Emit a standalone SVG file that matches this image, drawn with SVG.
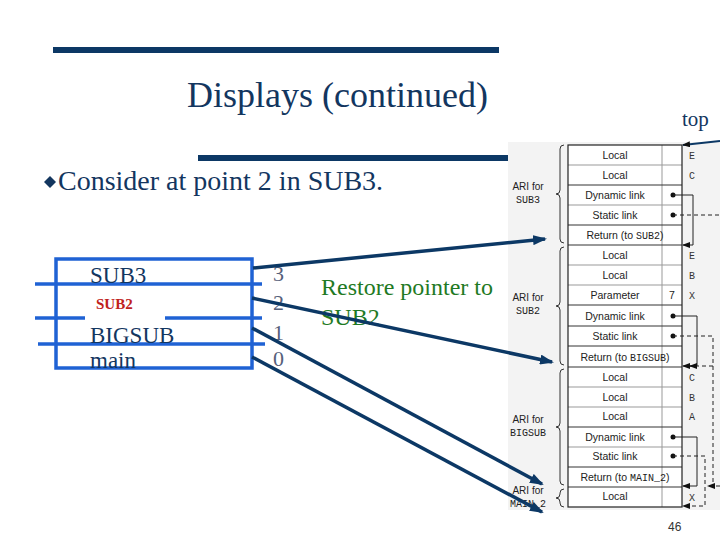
<svg xmlns="http://www.w3.org/2000/svg" width="720" height="540" viewBox="0 0 720 540">
<style>
.serif{font-family:"Liberation Serif","Times New Roman",serif}
.navy{fill:#13365f}
.num{font-family:"Liberation Serif",serif;font-size:22px;fill:#56607a}
.lbl{font-family:"Liberation Serif",serif;font-size:23px;fill:#13365f}
.cell{font-family:"Liberation Sans",Arial,sans-serif;font-size:10.5px;fill:#222;text-anchor:middle}
.var{font-family:"Liberation Mono",monospace;font-size:10px;fill:#333}
.ari{font-family:"Liberation Sans",Arial,sans-serif;font-size:10px;fill:#222;text-anchor:middle}
.mono{font-family:"Liberation Mono","Courier New",monospace}
.big{stroke:#0c3865;stroke-width:3.5;fill:none}
.thin{stroke:#222;stroke-width:1;fill:none}
.dash{stroke:#222;stroke-width:1;fill:none;stroke-dasharray:4 3}
.brace{stroke:#333;stroke-width:1;fill:none}
.blue{stroke:#1f62d4;stroke-width:3.5;fill:none}
</style>
<defs>
<marker id="ah" markerUnits="userSpaceOnUse" markerWidth="14" markerHeight="10" refX="12" refY="5" orient="auto"><path d="M0,0 L14,5 L0,10 z" fill="#0c3865"/></marker>
<marker id="sh" markerUnits="userSpaceOnUse" markerWidth="8" markerHeight="6" refX="7" refY="3" orient="auto"><path d="M0,0 L8,3 L0,6 z" fill="#111"/></marker>
</defs>
<rect width="720" height="540" fill="#fff"/>

<g id="title">
<rect x="53" y="47" width="446" height="6" fill="#0c3865"/>
<text x="187" y="107" class="serif navy" font-size="36">Displays (continued)</text>
<rect x="198" y="155" width="310" height="6" fill="#0c3865"/>
</g>

<g id="bullet">
<path d="M44,182 L50,176 L56,182 L50,188 z" fill="#13365f"/>
<text x="58" y="190" class="serif navy" font-size="28">Consider at point 2 in SUB3.</text>
</g>

<g id="display">
<rect x="56" y="259" width="196" height="109" class="blue"/>
<line x1="35" y1="284" x2="262" y2="284" class="blue"/>
<line x1="35" y1="318" x2="85" y2="318" class="blue"/>
<line x1="165" y1="318" x2="262" y2="318" class="blue"/>
<line x1="38" y1="344" x2="265" y2="344" class="blue"/>
<text x="90" y="283" class="lbl">SUB3</text>
<text x="96" y="309" font-family="Liberation Serif,serif" font-size="15" font-weight="bold" fill="#c0221c">SUB2</text>
<text x="90" y="343" class="lbl">BIGSUB</text>
<text x="90" y="368" class="lbl">main</text>
<text x="273" y="281" class="num">3</text>
<text x="273" y="310" class="num">2</text>
<text x="273" y="340" class="num">1</text>
<text x="273" y="366" class="num">0</text>
</g>

<g id="note">
<text x="321" y="295" class="serif" font-size="24" fill="#1f7a24">Restore pointer to</text>
<text x="321" y="325" class="serif" font-size="24" fill="#1f7a24">SUB2</text>
</g>

<g id="stack">
<rect x="508" y="142" width="212" height="368" fill="#f3f3f3"/>
<rect x="568" y="145" width="114" height="362" fill="#fff"/>
<g stroke="#999" stroke-width="1">
<line x1="662" y1="145" x2="662" y2="507"/>
<line x1="568" y1="165" x2="682" y2="165"/>
<line x1="568" y1="205" x2="682" y2="205"/>
<line x1="568" y1="265" x2="682" y2="265"/>
<line x1="568" y1="285" x2="682" y2="285"/>
<line x1="568" y1="387" x2="682" y2="387"/>
<line x1="568" y1="407" x2="682" y2="407"/>
<line x1="568" y1="447" x2="682" y2="447"/>
</g>
<g stroke="#333" stroke-width="1">
<line x1="568" y1="185" x2="682" y2="185"/>
<line x1="568" y1="225" x2="682" y2="225"/>
<line x1="568" y1="245" x2="682" y2="245"/>
<line x1="568" y1="305" x2="682" y2="305"/>
<line x1="568" y1="326" x2="682" y2="326"/>
<line x1="568" y1="346" x2="682" y2="346"/>
<line x1="568" y1="367" x2="682" y2="367"/>
<line x1="568" y1="427" x2="682" y2="427"/>
<line x1="568" y1="467" x2="682" y2="467"/>
<line x1="568" y1="487" x2="682" y2="487"/>
</g>
<rect x="568" y="145" width="114" height="362" fill="none" stroke="#222" stroke-width="1.2"/>
<text x="615" y="159" class="cell">Local</text>
<text x="615" y="179" class="cell">Local</text>
<text x="615" y="199" class="cell">Dynamic link</text>
<text x="615" y="219" class="cell">Static link</text>
<text x="625" y="239" class="cell">Return (to <tspan class="mono" font-size="10">SUB2</tspan>)</text>
<text x="615" y="259" class="cell">Local</text>
<text x="615" y="279" class="cell">Local</text>
<text x="615" y="299" class="cell">Parameter</text>
<text x="672" y="299" class="cell">7</text>
<text x="615" y="320" class="cell">Dynamic link</text>
<text x="615" y="340" class="cell">Static link</text>
<text x="625" y="361" class="cell">Return (to <tspan class="mono" font-size="10">BIGSUB</tspan>)</text>
<text x="615" y="381" class="cell">Local</text>
<text x="615" y="401" class="cell">Local</text>
<text x="615" y="420" class="cell">Local</text>
<text x="615" y="441" class="cell">Dynamic link</text>
<text x="615" y="460" class="cell">Static link</text>
<text x="625" y="481" class="cell">Return (to <tspan class="mono" font-size="10">MAIN_2</tspan>)</text>
<text x="615" y="500" class="cell">Local</text>
<text x="689" y="159" class="var">E</text>
<text x="689" y="179" class="var">C</text>
<text x="689" y="259" class="var">E</text>
<text x="689" y="279" class="var">B</text>
<text x="689" y="299" class="var">X</text>
<text x="689" y="381" class="var">C</text>
<text x="689" y="401" class="var">B</text>
<text x="689" y="420" class="var">A</text>
<text x="689" y="501" class="var">X</text>
<g fill="#111">
<circle cx="673" cy="195" r="2.5"/><circle cx="673" cy="215" r="2.5"/>
<circle cx="673" cy="316" r="2.5"/><circle cx="673" cy="336" r="2.5"/>
<circle cx="673" cy="437" r="2.5"/><circle cx="673" cy="456" r="2.5"/>
</g>
<path class="brace" d="M564,145 Q560,145 560,149 V190 Q560,194 556,194 Q560,194 560,198 V239 Q560,243 564,243"/>
<path class="brace" d="M564,247 Q560,247 560,251 V302 Q560,306 556,306 Q560,306 560,310 V361 Q560,365 564,365"/>
<path class="brace" d="M564,369 Q560,369 560,373 V423 Q560,427 556,427 Q560,427 560,431 V481 Q560,485 564,485"/>
<path class="brace" d="M564,489 Q560,489 560,493 V494 Q560,498 556,498 Q560,498 560,502 V503 Q560,507 564,507"/>
<text x="528" y="190" class="ari">ARI for</text>
<text x="528" y="203" class="ari mono" font-size="9.5">SUB3</text>
<text x="528" y="301" class="ari">ARI for</text>
<text x="528" y="314" class="ari mono" font-size="9.5">SUB2</text>
<text x="528" y="423" class="ari">ARI for</text>
<text x="528" y="436" class="ari mono" font-size="9.5">BIGSUB</text>
<text x="528" y="494" class="ari">ARI for</text>
<text x="528" y="507" class="ari mono" font-size="9.5">MAIN_2</text>
<text x="682" y="126" class="serif navy" font-size="21">top</text>
<text x="668" y="531" font-family="Liberation Sans,Arial,sans-serif" font-size="12" fill="#333">46</text>
</g>

<g id="connectors">
<path class="thin" d="M673,195 H693 V245 H683" marker-end="url(#sh)"/>
<path class="dash" d="M673,215 H720"/>
<path class="thin" d="M673,316 H697 V366 H683" marker-end="url(#sh)"/>
<path class="dash" d="M673,336 H713 V366 H690" marker-end="url(#sh)"/>
<path class="dash" d="M713,366 V486"/>
<path class="dash" d="M720,486 H708" marker-end="url(#sh)"/>
<path class="thin" d="M673,437 H697 V486 H683" marker-end="url(#sh)"/>
<path class="dash" d="M673,456 H705 V506 H683" marker-end="url(#sh)"/>
<path d="M720,141 L683,145" stroke="#0c3865" stroke-width="2" fill="none" marker-end="url(#sh)"/>
<path class="big" d="M253,268 L545,239" marker-end="url(#ah)"/>
<path class="big" d="M252,298 L552,362" marker-end="url(#ah)"/>
<path class="big" d="M252,328 L542,484" marker-end="url(#ah)"/>
<path class="big" d="M252,357 L542,512" marker-end="url(#ah)"/>
</g>
</svg>
